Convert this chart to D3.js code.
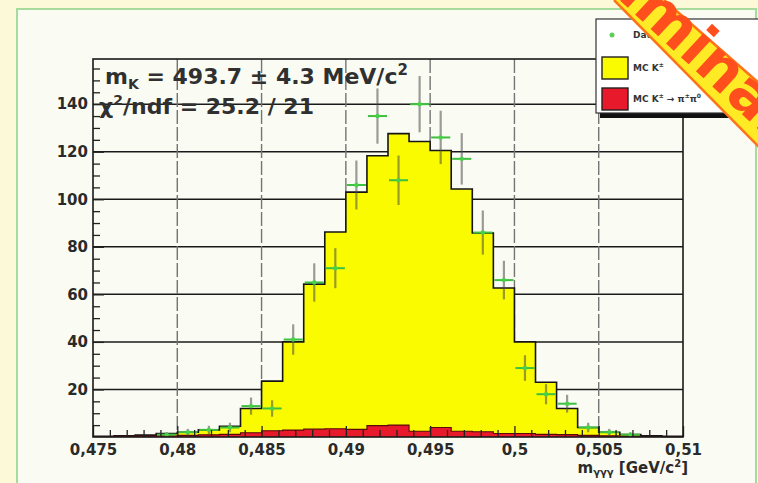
<!DOCTYPE html>
<html>
<head>
<meta charset="utf-8">
<script src="https://cdn.jsdelivr.net/npm/d3@7"></script>
<style>
  html, body { margin: 0; padding: 0; background: #fcf9d9; }
  svg { display: block; }
  text { font-family: "DejaVu Sans", "Liberation Sans", Arial, sans-serif; font-weight: bold; }
</style>
</head>
<body>
<svg id="chart" width="758" height="483"></svg>
<script>
// Histogram binning: 28 bins of 1.25 MeV from 0.475 to 0.51 GeV
const binStart = 0.475;
const binWidth = 0.00125;

// MC total (yellow) per bin
const mcTotal = [0.3, 0.5, 0.8, 1.5, 2, 3, 4.5, 12, 23.5, 40, 64.3, 86.2, 103, 118.3,
                 127.6, 124.3, 120.5, 104.3, 85.8, 62.7, 40, 23, 12, 4, 2, 1, 0.5, 0.3];
// MC background component (red) per bin
const mcBackground = [0.2, 0.3, 0.4, 0.5, 0.7, 0.9, 1.1, 1.8, 2.6, 2.9, 3.3, 3.5, 3.2, 4.8,
                      5.0, 2.4, 4.0, 2.4, 2.2, 1.5, 1.5, 1.1, 1.0, 0.7, 0.5, 0.3, 0.2, 0.1];
// Data counts per bin
const dataCounts = [0, 0, 0, 1, 2, 3, 4, 13, 12, 41, 65, 71, 106, 135,
                    108, 140, 126, 117, 86, 66, 29, 18, 14, 4, 2, 1, 0, 0];

const xTicks = [0.475, 0.48, 0.485, 0.49, 0.495, 0.5, 0.505, 0.51];
const xTickLabels = ["0,475", "0,48", "0,485", "0,49", "0,495", "0,5", "0,505", "0,51"];
const yTicks = [20, 40, 60, 80, 100, 120, 140];
const yMax = 159;

const fitMass = "493.7", fitMassErr = "4.3";
const fitChi2 = "25.2", fitNdf = "21";
const legendLabels = ["Data", "MC K", "MC K"];

const W = 758, H = 483;
const plot = { left: 93, right: 683, top: 59, bottom: 437 };

const svg = d3.select("#chart");

const x = d3.scaleLinear().domain([binStart, binStart + binWidth * mcTotal.length]).range([plot.left, plot.right]);
const y = d3.scaleLinear().domain([0, yMax]).range([plot.bottom, plot.top]);

// canvas panel
svg.append("rect").attr("x", 0).attr("y", 0).attr("width", W).attr("height", H).attr("fill", "#fcf9d9");
svg.append("rect").attr("x", 17).attr("y", 9).attr("width", 739).attr("height", 490)
  .attr("fill", "#fafcf3").attr("stroke", "#a5dc9c").attr("stroke-width", 2);

// grid
const grid = svg.append("g");
grid.selectAll("line.h").data(yTicks).join("line")
  .attr("x1", plot.left).attr("x2", plot.right)
  .attr("y1", d => y(d)).attr("y2", d => y(d))
  .attr("stroke", "#1a1a1a").attr("stroke-width", 1.5);
grid.selectAll("line.v").data(xTicks.slice(1, -1)).join("line")
  .attr("x1", d => x(d)).attr("x2", d => x(d))
  .attr("y1", plot.top).attr("y2", plot.bottom)
  .attr("stroke", "#747474").attr("stroke-width", 1.4).attr("stroke-dasharray", "14,3");

// step histogram helpers
function stepPoints(vals) {
  const pts = vals.map((v, i) => ({ e: binStart + i * binWidth, v }));
  pts.push({ e: binStart + vals.length * binWidth, v: vals[vals.length - 1] });
  return pts;
}
const area = d3.area().curve(d3.curveStepAfter).x(d => x(d.e)).y0(y(0)).y1(d => y(d.v));
const line = d3.line().curve(d3.curveStepAfter).x(d => x(d.e)).y(d => y(d.v));

svg.append("path").attr("d", area(stepPoints(mcTotal))).attr("fill", "#fbfb00");
svg.append("path").attr("d", line(stepPoints(mcTotal))).attr("fill", "none")
  .attr("stroke", "#151515").attr("stroke-width", 1.6);
svg.append("path").attr("d", area(stepPoints(mcBackground))).attr("fill", "#e8192a");
svg.append("path").attr("d", line(stepPoints(mcBackground))).attr("fill", "none")
  .attr("stroke", "#5a0a0a").attr("stroke-width", 1.1);

// data points with sqrt(N) errors
const pts = dataCounts.map((c, i) => ({ c, lo: binStart + i * binWidth, hi: binStart + (i + 1) * binWidth }))
  .filter(d => d.c > 0);
const dg = svg.append("g");
dg.selectAll("line.ev").data(pts).join("line")
  .attr("x1", d => x((d.lo + d.hi) / 2)).attr("x2", d => x((d.lo + d.hi) / 2))
  .attr("y1", d => y(d.c - Math.sqrt(d.c))).attr("y2", d => y(d.c + Math.sqrt(d.c)))
  .attr("stroke", "#4a4a4a").attr("stroke-opacity", 0.55).attr("stroke-width", 2.2);
dg.selectAll("line.eh").data(pts).join("line")
  .attr("x1", d => x(d.lo) + 1).attr("x2", d => x(d.hi) - 1)
  .attr("y1", d => y(d.c)).attr("y2", d => y(d.c))
  .attr("stroke", "#3fbf3f").attr("stroke-width", 2);
dg.selectAll("circle").data(pts).join("circle")
  .attr("cx", d => x((d.lo + d.hi) / 2)).attr("cy", d => y(d.c)).attr("r", 2.2)
  .attr("fill", "#48d048");

// axes (ticks drawn inside the frame)
const minorY = d3.range(0, yMax + 0.1, 5).filter(v => v % 20 !== 0);
const minorX = d3.range(0, 36).map(i => 0.475 + i * 0.001).filter((v, i) => i % 5 !== 0);

const yAxis = svg.append("g").attr("transform", `translate(${plot.left},0)`)
  .call(d3.axisLeft(y).tickValues(yTicks).tickSize(-11).tickPadding(5).tickFormat(d3.format("d")));
svg.append("g").attr("transform", `translate(${plot.left},0)`)
  .call(d3.axisLeft(y).tickValues(minorY).tickSize(-7).tickFormat(""));
const xAxis = svg.append("g").attr("transform", `translate(0,${plot.bottom})`)
  .call(d3.axisBottom(x).tickValues(xTicks).tickSize(-11).tickPadding(7).tickFormat((d, i) => xTickLabels[i]));
svg.append("g").attr("transform", `translate(0,${plot.bottom})`)
  .call(d3.axisBottom(x).tickValues(minorX).tickSize(-7).tickFormat(""));
svg.selectAll(".domain").remove();
svg.selectAll(".tick line").attr("stroke", "#222").attr("stroke-width", 1.3);
yAxis.selectAll("text").attr("font-size", 15).attr("fill", "#2a2a2a");
xAxis.selectAll("text").attr("font-size", 15).attr("fill", "#2a2a2a");

// frame
svg.append("rect").attr("x", plot.left).attr("y", plot.top)
  .attr("width", plot.right - plot.left).attr("height", plot.bottom - plot.top)
  .attr("fill", "none").attr("stroke", "#1a1a1a").attr("stroke-width", 1.6);

// fit result text
const t1 = svg.append("text").attr("x", 105).attr("y", 84).attr("font-size", 22).attr("fill", "#303030");
t1.append("tspan").text("m");
t1.append("tspan").attr("font-size", 14).attr("dy", 5).text("K");
t1.append("tspan").attr("dy", -5).text(` = ${fitMass} ± ${fitMassErr} MeV/c`);
t1.append("tspan").attr("font-size", 15).attr("dy", -9).text("2");
const t2 = svg.append("text").attr("x", 99).attr("y", 114).attr("font-size", 22).attr("fill", "#303030");
t2.append("tspan").text("χ");
t2.append("tspan").attr("font-size", 14).attr("dy", -9).text("2");
t2.append("tspan").attr("dy", 9).text(`/ndf = ${fitChi2} / ${fitNdf}`);

// axis title
const at = svg.append("text").attr("x", 688).attr("y", 473).attr("text-anchor", "end")
  .attr("font-size", 15).attr("fill", "#2a2a2a");
at.append("tspan").text("m");
at.append("tspan").attr("font-size", 10).attr("dy", 3).text("γγγ");
at.append("tspan").attr("dy", -3).text(" [GeV/c");
at.append("tspan").attr("font-size", 10).attr("dy", -6).text("2");
at.append("tspan").attr("dy", 6).text("]");

// legend
const lg = svg.append("g");
lg.append("rect").attr("x", 600).attr("y", 113).attr("width", 170).attr("height", 5).attr("fill", "#111");
lg.append("rect").attr("x", 596).attr("y", 19).attr("width", 180).attr("height", 94)
  .attr("fill", "#ffffff").attr("stroke", "#333").attr("stroke-width", 1.2);
lg.append("circle").attr("cx", 612).attr("cy", 35).attr("r", 2.5).attr("fill", "#5bd05b");
lg.append("rect").attr("x", 602).attr("y", 57).attr("width", 26).attr("height", 22)
  .attr("fill", "#fbfb00").attr("stroke", "#222").attr("stroke-width", 1.4);
lg.append("rect").attr("x", 602).attr("y", 88).attr("width", 26).attr("height", 22)
  .attr("fill", "#e8192a").attr("stroke", "#222").attr("stroke-width", 1.4);
const ly = [35, 68, 99];
legendLabels.forEach((lab, i) => {
  const t = lg.append("text").attr("x", 633).attr("y", ly[i]).attr("dy", "0.35em")
    .attr("font-size", 9).attr("fill", "#333").text(lab);
  if (i > 0) t.append("tspan").attr("font-size", 6).attr("dy", -4).text("±");
  if (i === 2) {
    t.append("tspan").attr("dy", 4).text(" → π");
    t.append("tspan").attr("font-size", 6).attr("dy", -4).text("±");
    t.append("tspan").attr("dy", 4).text("π");
    t.append("tspan").attr("font-size", 6).attr("dy", -4).text("0");
  }
});

// "Preliminary" corner ribbon
const rb = svg.append("g");
rb.append("polygon").attr("points", "614,0 664,0 760,84 760,148").attr("fill", "#ffea26");
rb.append("line").attr("x1", 614).attr("y1", 0).attr("x2", 760).attr("y2", 148)
  .attr("stroke", "#ff7318").attr("stroke-width", 2.5);
rb.append("line").attr("x1", 664).attr("y1", 0).attr("x2", 760).attr("y2", 84)
  .attr("stroke", "#ff7318").attr("stroke-width", 2.5);
rb.append("text").attr("transform", "translate(672,26) rotate(43)")
  .attr("text-anchor", "middle").attr("dy", "0.28em")
  .attr("font-size", 60).attr("fill", "#ff4f1c").text("Preliminary");
</script>
</body>
</html>
